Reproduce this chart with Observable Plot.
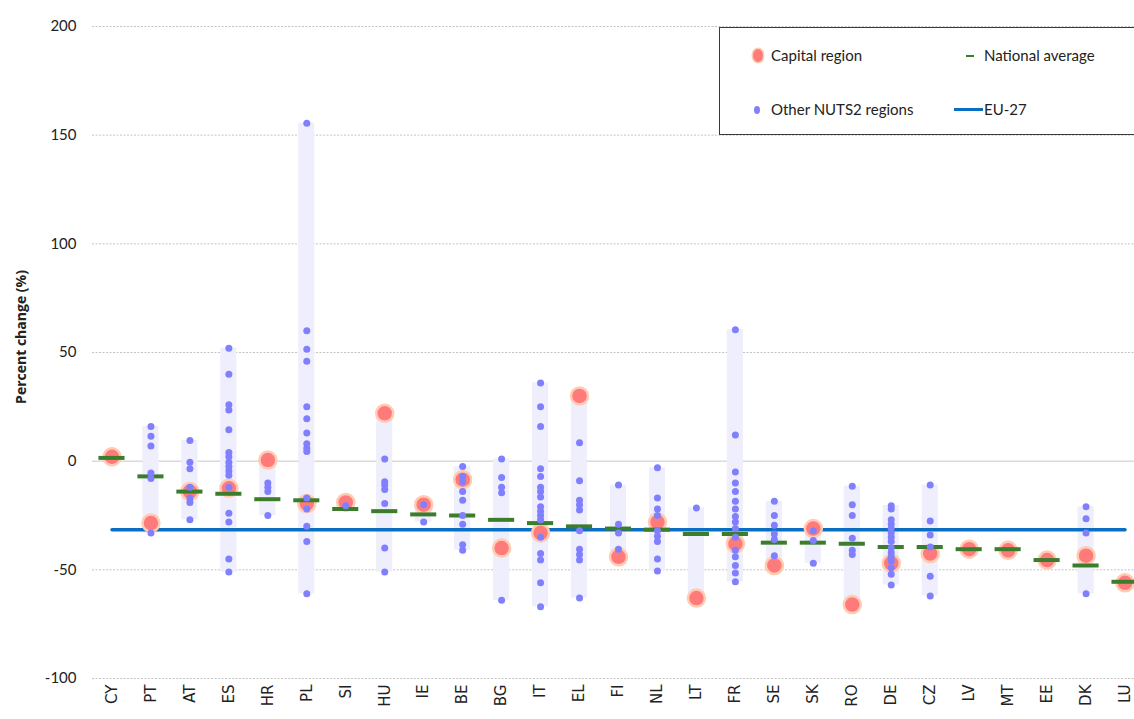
<!DOCTYPE html>
<html><head><meta charset="utf-8">
<script src="https://cdn.jsdelivr.net/npm/d3@7"></script>
<script src="https://cdn.jsdelivr.net/npm/@observablehq/plot@0.6"></script>
<style>
body{margin:0;overflow:hidden;background:#fff;font-family:Lato,"Open Sans",sans-serif}
#wrap{position:relative;width:1134px;height:719px;overflow:hidden}
#chart svg{max-width:none !important;display:block}
#legend{position:absolute;left:719px;top:27px;width:420px;height:108px;border:1.5px solid #3a3a3a;background:#fff;box-sizing:border-box;font-family:Lato,sans-serif;font-size:15px;color:#222}
#legend .t{position:absolute;line-height:18px;white-space:nowrap}
#legend .sw{position:absolute}
#ylabel{position:absolute;left:20px;top:337px;transform:translate(-50%,-50%) rotate(-90deg);white-space:nowrap;font-family:"Open Sans",sans-serif;font-weight:700;font-size:14px;color:#222}
</style></head>
<body><div id="wrap"><div id="chart"></div>
<div id="ylabel">Percent change (%)</div>
<div id="legend">
  <div class="sw" style="left:33px;top:21px;width:10px;height:13px;border-radius:50%;background:#ff7b7b;box-shadow:0 0 0 1.5px #ffcbb3"></div>
  <div class="t" style="left:51px;top:18px">Capital region</div>
  <div class="sw" style="left:246px;top:27px;width:8px;height:2px;background:#3c7d2c"></div>
  <div class="t" style="left:264px;top:18px">National average</div>
  <div class="sw" style="left:34px;top:78px;width:6px;height:8px;border-radius:50%;background:#8080ff"></div>
  <div class="t" style="left:51px;top:72px">Other NUTS2 regions</div>
  <div class="sw" style="left:234px;top:80px;width:29px;height:3px;background:#0a6fc2"></div>
  <div class="t" style="left:264px;top:72px">EU-27</div>
</div></div>
<script>
const countries = ["CY","PT","AT","ES","HR","PL","SI","HU","IE","BE","BG","IT","EL","FI","NL","LT","FR","SE","SK","RO","DE","CZ","LV","MT","EE","DK","LU"];
const capital = [2,-28.5,-14,-12.5,0.5,-19.5,-19,22,-20,-8.5,-40,-33,30,-44,-28,-63,-38,-48,-31,-66,-47,-42.5,-40.5,-41,-45.5,-43.5,-56];
const national = [1.5,-7,-14,-15,-17.5,-18,-22,-23,-24.5,-25,-27,-28.5,-30,-31,-31.5,-33.5,-33.5,-37.5,-37.5,-38,-39.5,-39.5,-40.5,-40.5,-45.5,-48,-55.5];
const others = [
  [],
  [16,11.5,7,-5.5,-8,-33],
  [9.5,-0.5,-3.5,-12,-17,-19,-27],
  [52,40,26,23.5,14.5,4,2,-0.5,-2.5,-4.5,-6.5,-12,-24,-28,-45,-51],
  [-10,-12,-14,-25],
  [155.5,60,51.5,46,25,19.5,13,8,6,4.5,-17,-22,-30,-37,-61],
  [-20.5],
  [1,-9.5,-11,-13,-19.5,-40,-51],
  [-20,-28],
  [-2.5,-7,-9.5,-14,-18,-25,-29,-38.5,-41],
  [1,-7.5,-12,-14.5,-64],
  [36,25,16,-3.5,-7,-12,-14,-16.5,-21,-23,-25,-27,-35,-42.5,-45.5,-56,-67],
  [8.5,-9,-18,-20,-22.5,-32,-40.5,-43,-45.5,-63],
  [-11,-29,-33,-40.5],
  [-3,-17,-22,-25,-32,-34.5,-37,-45,-50.5],
  [-21.5],
  [60.5,12,-5,-10,-14,-18.5,-22,-25.5,-28,-31,-35,-41,-44,-48,-51.5,-55.5],
  [-18.5,-25,-29.5,-33.5,-36,-43.5],
  [-32,-36.5,-47],
  [-11.5,-20,-25,-35.5,-41,-43],
  [-20.5,-22,-27,-29,-31,-33,-35,-37,-40,-42,-44,-46,-49,-52,-57],
  [-11,-27.5,-34,-39.5,-53,-62],
  [],
  [],
  [],
  [-21,-26.5,-33,-61],
  []
];
const eu27 = -31.5;
const yTicks = [-100,-50,0,50,100,150,200];

const ranges = countries.map((c,i)=>{const v=[capital[i],...others[i]];return {country:c,lo:d3.min(v),hi:d3.max(v)};});
const otherRows = countries.flatMap((c,i)=>others[i].map(v=>({country:c,value:v})));

const chart = Plot.plot({
  width:1146, height:719,
  marginLeft:92, marginRight:2, marginTop:26, marginBottom:41,
  style:{fontFamily:"Lato, sans-serif", color:"#333", background:"transparent"},
  x:{domain:countries, paddingInner:0.33, paddingOuter:0.165, round:false},
  y:{domain:[-100,200]},
  marks:[
    Plot.gridY(yTicks.filter(d=>d!==0),{stroke:"#c4c4c4",strokeOpacity:1,strokeDasharray:"2,1.5"}),
    Plot.ruleY([0],{stroke:"#dadada",strokeWidth:1.5}),
    Plot.barY(ranges,{x:"country",y1:"lo",y2:"hi",fill:"#eeeefc",insetLeft:5,insetRight:5}),
    Plot.line(countries,{x:d=>d,y:()=>eu27,stroke:"#0a6fc2",strokeWidth:3.5}),
    Plot.dot(countries,{x:d=>d,y:(d,i)=>capital[i],r:8.5,fill:"#ff7b7b",stroke:"#ffcbb3",strokeWidth:2.5}),
    Plot.tickY(countries,{x:d=>d,y:(d,i)=>national[i],stroke:"#3c7d2c",strokeWidth:4}),
    Plot.dot(otherRows,{x:"country",y:"value",r:3.5,fill:"#8080ff"}),
    Plot.axisY({ticks:yTicks,tickFormat:d=>String(d),tickSize:0,tickPadding:16,fontSize:15,fill:"#222",label:null}),
    Plot.axisX({tickSize:0,tickPadding:6,tickRotate:-90,fontSize:15,fontFamily:"DejaVu Sans",fill:"#222",label:null})
  ]
});
document.getElementById("chart").appendChild(chart);
</script>
</body></html>
